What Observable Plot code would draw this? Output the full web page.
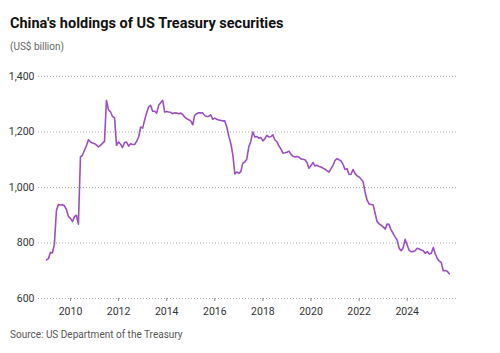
<!DOCTYPE html>
<html>
<head>
<meta charset="utf-8">
<script src="https://cdn.jsdelivr.net/npm/d3@7"></script>
<script src="https://cdn.jsdelivr.net/npm/@observablehq/plot@0.6"></script>
<style>
  html, body { margin: 0; padding: 0; background: #fff; }
  #wrap { position: relative; width: 500px; height: 353px; font-family: Roboto, "Noto Sans", sans-serif; }
  #title { position: absolute; left: 10px; top: 17px; font-size: 14.5px; line-height: 14.5px; font-weight: 700; color: #111; white-space: nowrap; }
  #subtitle { position: absolute; left: 10px; top: 41.5px; font-size: 10px; line-height: 10px; color: #666; white-space: nowrap; }
  #chart { position: absolute; left: 0; top: 60px; }
  #source { position: absolute; left: 10px; top: 330px; font-size: 10px; line-height: 10px; color: #555; white-space: nowrap; }
</style>
</head>
<body>
<div id="wrap">
  <div id="title">China's holdings of US Treasury securities</div>
  <div id="subtitle">(US$ billion)</div>
  <div id="chart"></div>
  <div id="source">Source: US Department of the Treasury</div>
</div>
<script>
// Monthly holdings, US$ billion, starting January 2009
const startMonth = "2009-01-01";
const holdings = [
  // 2009
  739, 744, 766, 764, 795, 916, 939, 937, 938, 934, 920, 895,
  // 2010
  889, 877, 895, 900, 868, 1110, 1116, 1134, 1151, 1172, 1164, 1160,
  // 2011
  1158, 1153, 1146, 1152, 1159, 1166, 1314, 1280, 1272, 1256, 1251, 1152,
  // 2012
  1164, 1156, 1144, 1162, 1164, 1149, 1158, 1155, 1155, 1166, 1182, 1218,
  // 2013
  1214, 1244, 1268, 1290, 1296, 1275, 1275, 1268, 1296, 1305, 1314, 1272,
  // 2014
  1274, 1272, 1271, 1266, 1269, 1268, 1266, 1268, 1263, 1254, 1248, 1244,
  // 2015
  1240, 1226, 1260, 1266, 1269, 1269, 1269, 1259, 1256, 1256, 1262, 1246,
  // 2016
  1250, 1246, 1243, 1242, 1240, 1240, 1218, 1185, 1158, 1118, 1049, 1056,
  // 2017
  1051, 1058, 1088, 1092, 1102, 1147, 1166, 1200, 1182, 1184, 1178, 1180,
  // 2018
  1168, 1176, 1188, 1182, 1183, 1190, 1172, 1165, 1150, 1139, 1124, 1125,
  // 2019
  1127, 1131, 1120, 1113, 1110, 1112, 1110, 1103, 1102, 1100, 1090, 1069,
  // 2020
  1079, 1090, 1078, 1080, 1076, 1074, 1070, 1066, 1060, 1056, 1068, 1080,
  // 2021
  1098, 1104, 1100, 1096, 1084, 1065, 1068, 1047, 1048, 1065, 1050, 1042,
  // 2022
  1038, 1030, 1022, 984, 955, 941, 939, 938, 907, 877, 869, 864,
  // 2023
  858, 850, 868, 867, 847, 835, 822, 811, 781, 772, 783, 813,
  // 2024
  793, 773, 769, 769, 772, 781, 778, 775, 772, 763, 769, 760,
  // 2025
  763, 784, 762, 745, 735, 730, 700, 701, 698, 689
];
const yTicks = [600, 800, 1000, 1200, 1400];
const xTickYears = [2010, 2012, 2014, 2016, 2018, 2020, 2022, 2024];

const months = d3.utcMonth.range(new Date(startMonth), d3.utcMonth.offset(new Date(startMonth), holdings.length));
const data = holdings.map((v, i) => ({date: months[i], value: v}));
const xTicks = xTickYears.map(y => new Date(Date.UTC(y, 0, 1)));

const chart = Plot.plot({
  width: 500,
  height: 265,
  marginLeft: 38,
  marginRight: 44,
  marginTop: 16,
  marginBottom: 27,
  style: {fontFamily: "Roboto, 'Noto Sans', sans-serif", background: "transparent"},
  x: {type: "utc", domain: [new Date("2008-09-02"), new Date("2026-01-19")]},
  y: {domain: [600, 1400]},
  marks: [
    Plot.gridY(yTicks, {stroke: "#aaa", strokeOpacity: 1, strokeDasharray: "1,2"}),
    Plot.axisY(yTicks, {tickSize: 0, tickPadding: 4, tickFormat: d3.format(","), fontSize: 10.5, fill: "#333", label: null}),
    Plot.axisX(xTicks, {tickSize: 3, tickPadding: 6, tickFormat: d3.utcFormat("%Y"), fontSize: 10.5, fill: "#333", stroke: "#888", label: null}),
    Plot.lineY(data, {x: "date", y: "value", stroke: "#9b4fc0", strokeWidth: 1.6})
  ]
});
document.getElementById("chart").appendChild(chart);
</script>
</body>
</html>
